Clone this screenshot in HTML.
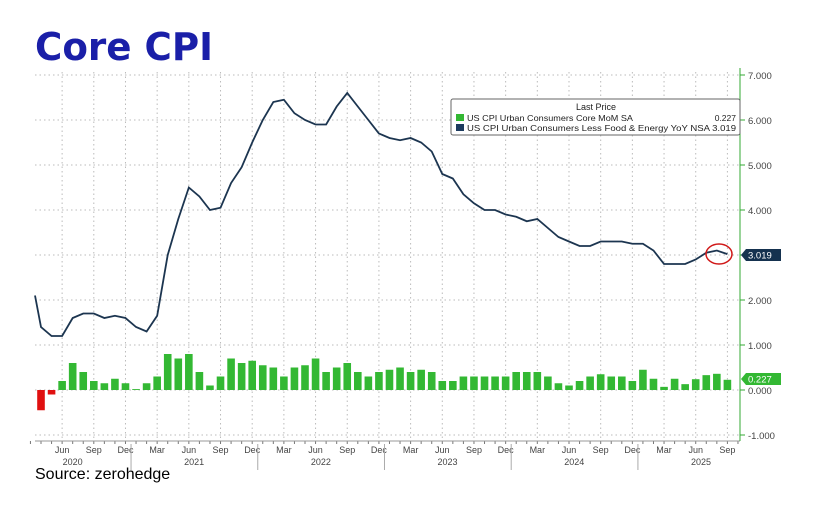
<!DOCTYPE html>
<html><head><meta charset="utf-8"><style>
html,body{margin:0;padding:0;background:#fff;width:816px;height:507px;overflow:hidden}
</style></head><body>
<svg id="s" width="816" height="507" xmlns="http://www.w3.org/2000/svg" font-family="Liberation Sans, sans-serif">
<text x="35" y="60" font-family="DejaVu Sans, sans-serif" font-weight="bold" font-size="38" fill="#1a1fa8" textLength="178" lengthAdjust="spacingAndGlyphs">Core CPI</text>
<g id="g"></g>
<text x="35" y="479" font-size="16" fill="#000">Source: zerohedge</text>
</svg>
<script>
const g=document.getElementById('g');let h='';
const X=i=>41+i*10.56;
const Y=v=>390-v*45;
for(let v=-1;v<=7;v++){h+=`<line x1="35" x2="740" y1="${Y(v)}" y2="${Y(v)}" stroke="#bbb" stroke-dasharray="1.5,3" stroke-width="1"/>`;
h+=`<line x1="740" x2="745" y1="${Y(v)}" y2="${Y(v)}" stroke="#3a3"/>`;
h+=`<text x="748" y="${Y(v)+4}" font-size="9.5" fill="#444">${v<0?'-':''}${Math.abs(v)}.000</text>`;}
const mn=['Jun','Sep','Dec','Mar'];
for(let k=0;k<22;k++){const i=2+3*k,x=X(i);
h+=`<line x1="${x}" x2="${x}" y1="72" y2="441" stroke="#bbb" stroke-dasharray="1.5,3"/>`;
h+=`<text x="${x}" y="453" font-size="9" fill="#444" text-anchor="middle">${mn[k%4]}</text>`;}
for(let i=-1;i<67;i++){h+=`<line x1="${X(i)}" x2="${X(i)}" y1="441" y2="444" stroke="#777"/>`}
h+=`<line x1="35" x2="740" y1="441" y2="441" stroke="#999"/>`;
h+=`<line x1="740" x2="740" y1="68" y2="441" stroke="#3a3"/>`;
const yrs=[2020,2021,2022,2023,2024,2025];
yrs.forEach((y,j)=>{const jan=X(-3+12*j)-5;
if(j>0)h+=`<line x1="${jan}" x2="${jan}" y1="444" y2="470" stroke="#aaa"/>`;
const c=j==0?X(3):X(-3+12*j+5.5);h+=`<text x="${c}" y="465" font-size="9" fill="#444" text-anchor="middle">${y}</text>`;});
const b=[-0.45,-0.1,0.2,0.6,0.4,0.2,0.15,0.25,0.15,0.02,0.15,0.3,0.8,0.7,0.8,0.4,0.1,0.3,0.7,0.6,0.65,0.55,0.5,0.3,0.5,0.55,0.7,0.4,0.5,0.6,0.4,0.3,0.4,0.45,0.5,0.4,0.45,0.4,0.2,0.2,0.3,0.3,0.3,0.3,0.3,0.4,0.4,0.4,0.3,0.15,0.1,0.2,0.3,0.35,0.3,0.3,0.2,0.45,0.25,0.07,0.25,0.13,0.24,0.33,0.36,0.227];
b.forEach((v,i)=>{const x=X(i)-3.8;const y=v>=0?Y(v):390;const hh=Math.abs(v)*45;
h+=`<rect x="${x}" y="${y}" width="7.6" height="${hh}" fill="${v<0?'#e01010':'#33b833'}"/>`});
const l=[2.1,1.4,1.2,1.2,1.6,1.7,1.7,1.6,1.65,1.6,1.4,1.3,1.65,3.0,3.8,4.5,4.3,4.0,4.05,4.6,4.95,5.5,6.0,6.4,6.45,6.15,6.0,5.9,5.9,6.3,6.6,6.3,6.0,5.7,5.6,5.55,5.6,5.5,5.3,4.8,4.7,4.35,4.15,4.0,4.0,3.9,3.85,3.75,3.8,3.6,3.4,3.3,3.2,3.2,3.3,3.3,3.3,3.25,3.25,3.1,2.8,2.8,2.8,2.9,3.05,3.1,3.019];
let p=l.map((v,k)=>`${Math.max(35,X(k-1))},${Y(v)}`).join(' ');
h+=`<polyline points="${p}" fill="none" stroke="#1c3550" stroke-width="1.8"/>`;
h+=`<ellipse cx="719" cy="254" rx="13" ry="10" fill="none" stroke="#d01818" stroke-width="1.5"/>`;
h+=`<path d="M741,255 L746,249 H781 V261 H746 Z" fill="#15324f"/><text x="748" y="258.5" font-size="9.5" fill="#fff">3.019</text>`;
h+=`<path d="M741,379 L746,373 H781 V385 H746 Z" fill="#33b833"/><text x="748" y="382.5" font-size="9.5" fill="#fff">0.227</text>`;
h+=`<rect x="451" y="99" width="289" height="36" rx="2" fill="#fff" stroke="#666"/>`;
h+=`<text x="596" y="110" font-size="9" text-anchor="middle" fill="#222">Last Price</text>`;
h+=`<rect x="456" y="114" width="8" height="7" fill="#33b833"/><text x="467" y="121" font-size="8.5" fill="#222" textLength="166" lengthAdjust="spacingAndGlyphs">US CPI Urban Consumers Core MoM SA</text><text x="736" y="121" font-size="8.5" fill="#222" text-anchor="end">0.227</text>`;
h+=`<rect x="456" y="124" width="8" height="7" fill="#1c3a5e"/><text x="467" y="131" font-size="8.5" fill="#222" textLength="269" lengthAdjust="spacingAndGlyphs">US CPI Urban Consumers Less Food &amp; Energy YoY NSA 3.019</text>`;
g.innerHTML=h;
</script>
</body></html>
